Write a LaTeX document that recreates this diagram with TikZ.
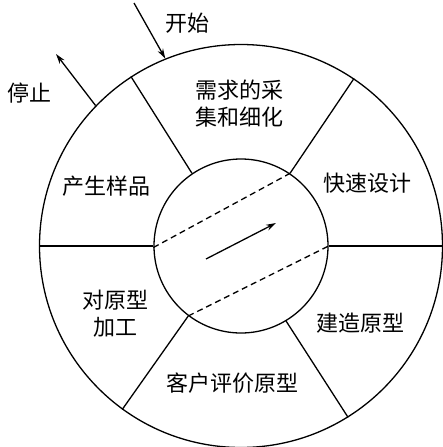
\documentclass[tikz,border=0pt]{standalone}
\usepackage{fontspec}
\newfontfamily\cjk{Noto Sans CJK SC}
\usetikzlibrary{arrows.meta}
\begin{document}
\begin{tikzpicture}[x=1pt,y=-1pt,
  lbl/.style={font=\cjk\fontsize{22}{27}\selectfont, align=center, inner sep=0pt},
  ln/.style={line width=1.3pt},
  arr/.style={line width=1.3pt,-{Stealth[length=10pt,width=6pt]}},
  dsh/.style={line width=1.3pt,dash pattern=on 6pt off 4pt}]
\useasboundingbox (0,0) rectangle (443,447);
\coordinate (C) at (241,246);
\node[circle,draw,ln,minimum size=403pt,inner sep=0pt] (outer) at (C) {};
\node[circle,draw,ln,minimum size=174pt,inner sep=0pt] (inner) at (C) {};
% dividers
\draw[ln] (inner.0) -- (outer.0);
\draw[ln] (inner.180) -- (outer.180);
\draw[ln] (inner.56.5) -- (outer.56);
\draw[ln] (inner.124.5) -- (outer.123.6);
\draw[ln] (inner.-127) -- (outer.-126.3);
\draw[ln] (inner.-59.5) -- (outer.-58.4);
% dashed chords
\draw[dsh] (inner.181) -- (inner.56.5);
\draw[dsh] (inner.-127) -- (inner.0);
% center arrow
\coordinate (a1) at (206,259);
\coordinate (a2) at (276,223);
\draw[arr] (a1) -- (a2);
% start / stop
\coordinate (s0) at (134,3);
\draw[arr] (s0) -- (outer.112.4);
\coordinate (e1) at (56,54);
\draw[arr] (outer.136) -- (e1);
% labels
\node[lbl] (start) at (187,23) {开始};
\node[lbl] (stop) at (30,93) {停止};
\node[lbl] (req) at (239,104) {需求的采\\集和细化};
\node[lbl] (design) at (367,183) {快速设计};
\node[lbl] (build) at (360,323) {建造原型};
\node[lbl] (eval) at (232,383) {客户评价原型};
\node[lbl] (refine) at (115,314) {对原型\\加工};
\node[lbl] (product) at (106,186) {产生样品};
\end{tikzpicture}
\end{document}
